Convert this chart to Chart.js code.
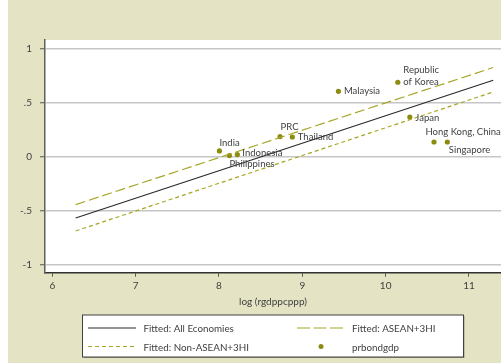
<!DOCTYPE html>
<html>
<head>
<meta charset="utf-8">
<script src="https://cdn.jsdelivr.net/npm/chart.js@4.4.1/dist/chart.umd.min.js"></script>
<style>
  html, body { margin: 0; padding: 0; background: #ffffff; }
  #wrap { width: 501px; height: 363px; }
</style>
</head>
<body>
<div id="wrap"><canvas id="c" width="501" height="363"></canvas></div>
<script>
// Economies: log real GDP per capita (PPP) vs. private bond market size / GDP
const economies = ['India', 'Philippines', 'Indonesia', 'PRC', 'Thailand', 'Malaysia',
  'Republic of Korea', 'Japan', 'Hong Kong, China', 'Singapore'];
const logGdp = [8.005, 8.125, 8.22, 8.733, 8.88, 9.433, 10.146, 10.29, 10.58, 10.74];
const prbondgdp = [0.056, 0.013, 0.022, 0.189, 0.185, 0.608, 0.692, 0.370, 0.139, 0.139];

// Fitted regression lines (endpoints over the sample range)
const fitX = [6.28, 11.29];
const fitAll = [-0.565, 0.710];
const fitAsean = [-0.441, 0.828];
const fitNonAsean = [-0.685, 0.602];

const xTicks = [6, 7, 8, 9, 10, 11];
const yTicks = [-1, -0.5, 0, 0.5, 1];
const yTickLabels = ['-1', '-.5', '0', '.5', '1'];

const FONT = 'Lato';
const BEIGE = '#e4e4c5';
const OLIVE = '#8c8c10';
const TEXT = '#404040';

// where each economy's label sits relative to its marker
const labelPlace = {
  'India': { dx: 0, dy: -8, lines: ['India'] },
  'Philippines': { dx: 0, dy: 8, lines: ['Philippines'] },
  'Indonesia': { dx: 5, dy: -1.5, lines: ['Indonesia'] },
  'PRC': { dx: 0.5, dy: -9.5, lines: ['PRC'] },
  'Thailand': { dx: 5.5, dy: 0, lines: ['Thailand'] },
  'Malaysia': { dx: 5.5, dy: 0, lines: ['Malaysia'] },
  'Republic of Korea': { dx: 5.5, dy: -12, lines: ['Republic', 'of Korea'] },
  'Japan': { dx: 5.5, dy: 1, lines: ['Japan'] },
  'Hong Kong, China': { dx: -8.5, dy: -10, lines: ['Hong Kong, China'] },
  'Singapore': { dx: 1.5, dy: 7.5, lines: ['Singapore'] }
};

const toPts = (xs, ys) => xs.map((x, i) => ({ x: x, y: ys[i] }));

const backdrop = {
  id: 'backdrop',
  beforeDraw(chart) {
    const { ctx, chartArea: a, width, height } = chart;
    ctx.save();
    ctx.fillStyle = '#ffffff';
    ctx.fillRect(0, 0, width, height);
    ctx.fillStyle = BEIGE;
    ctx.fillRect(8, 0, width - 8, height);
    ctx.fillStyle = '#ffffff';
    ctx.fillRect(a.left, a.top, a.right - a.left, a.bottom - a.top);
    ctx.restore();
  }
};

const pointLabels = {
  id: 'pointLabels',
  afterDatasetsDraw(chart) {
    const ctx = chart.ctx;
    const idx = chart.data.datasets.findIndex(d => d.type === 'scatter');
    const meta = chart.getDatasetMeta(idx);
    ctx.save();
    ctx.font = '9.5px ' + FONT;
    ctx.fillStyle = TEXT;
    ctx.textAlign = 'left';
    ctx.textBaseline = 'middle';
    meta.data.forEach((pt, i) => {
      const p = labelPlace[economies[i]];
      p.lines.forEach((t, k) => {
        ctx.fillText(t, pt.x + p.dx, pt.y + p.dy + k * 12);
      });
    });
    ctx.restore();
  }
};

const boxLegend = {
  id: 'boxLegend',
  afterDraw(chart) {
    const ctx = chart.ctx;
    const bx = 82.5, by = 315, bw = 381, bh = 42;
    ctx.save();
    ctx.fillStyle = '#9a9a88';
    ctx.fillRect(bx + 1, by + 1, bw, bh);
    ctx.fillStyle = '#ffffff';
    ctx.fillRect(bx, by, bw, bh);
    ctx.strokeStyle = '#404040';
    ctx.lineWidth = 1;
    ctx.strokeRect(bx, by, bw, bh);
    const cols = [{ sx: 88, ex: 136, tx: 143.5 }, { sx: 297, ex: 343, tx: 352 }];
    const rows = [329, 347.5];
    ctx.font = '9.8px ' + FONT;
    ctx.textBaseline = 'middle';
    chart.data.datasets.forEach((ds, i) => {
      const c = cols[i % 2], y = rows[Math.floor(i / 2)];
      if (ds.type === 'scatter') {
        ctx.fillStyle = ds.backgroundColor;
        ctx.beginPath();
        ctx.arc((c.sx + c.ex) / 2 + 1, y - 1, 2.5, 0, Math.PI * 2);
        ctx.fill();
      } else {
        ctx.strokeStyle = ds.borderColor;
        ctx.lineWidth = ds.borderWidth;
        ctx.setLineDash(ds.legendDash || []);
        ctx.beginPath();
        ctx.moveTo(c.sx, y - 1);
        ctx.lineTo(c.ex, y - 1);
        ctx.stroke();
        ctx.setLineDash([]);
      }
      ctx.fillStyle = TEXT;
      ctx.fillText(ds.label, c.tx, y);
    });
    ctx.restore();
  }
};

new Chart(document.getElementById('c'), {
  data: {
    datasets: [
      { type: 'line', label: 'Fitted: All Economies', data: toPts(fitX, fitAll),
        borderColor: '#2a2a2a', borderWidth: 1.2, pointRadius: 0, legendDash: [] },
      { type: 'line', label: 'Fitted: ASEAN+3HI', data: toPts(fitX, fitAsean),
        borderColor: '#a6a628', borderWidth: 1.2, borderDash: [10, 4], pointRadius: 0, legendDash: [13, 3.5] },
      { type: 'line', label: 'Fitted: Non-ASEAN+3HI', data: toPts(fitX, fitNonAsean),
        borderColor: '#a6a620', borderWidth: 1.2, borderDash: [4, 3], pointRadius: 0, legendDash: [4, 3] },
      { type: 'scatter', label: 'prbondgdp', data: toPts(logGdp, prbondgdp),
        backgroundColor: OLIVE, borderColor: OLIVE, pointRadius: 2.6, pointBorderWidth: 0 }
    ]
  },
  options: {
    responsive: false,
    animation: false,
    devicePixelRatio: 1,
    // the plot panel runs right up to the canvas edge
    layout: { autoPadding: false, padding: { left: 0, right: 0, top: 40, bottom: 55.6 } },
    plugins: { legend: { display: false }, tooltip: { enabled: false } },
    scales: {
      x: {
        type: 'linear', min: 5.912, max: 11.384,
        afterBuildTicks: s => { s.ticks = xTicks.map(v => ({ value: v })); },
        afterFit: s => { s.height = 34.7; s.paddingLeft = 0; s.paddingRight = 0; },
        grid: { drawOnChartArea: false, drawTicks: true, tickLength: 4, tickColor: '#555555', tickWidth: 1 },
        border: { display: true, color: '#303030', width: 1.5 },
        ticks: { color: TEXT, font: { family: FONT, size: 10 }, padding: 3, maxRotation: 0 },
        title: { display: true, text: 'log (rgdppcppp)', color: TEXT, font: { family: FONT, size: 10 }, padding: 0 }
      },
      y: {
        type: 'linear', min: -1.071, max: 1.083,
        afterBuildTicks: s => { s.ticks = yTicks.map(v => ({ value: v })); },
        afterFit: s => { s.width = 45; s.paddingTop = 0; s.paddingBottom = 0; },
        grid: { color: '#c6c6c6', lineWidth: 1.5, drawTicks: true, tickLength: 5, tickColor: '#555555', tickWidth: 1 },
        border: { display: true, color: '#606060', width: 1.5 },
        ticks: { color: TEXT, font: { family: FONT, size: 10 }, padding: 8,
          callback: v => yTickLabels[yTicks.indexOf(v)] }
      }
    }
  },
  plugins: [backdrop, pointLabels, boxLegend]
});
</script>
</body>
</html>
